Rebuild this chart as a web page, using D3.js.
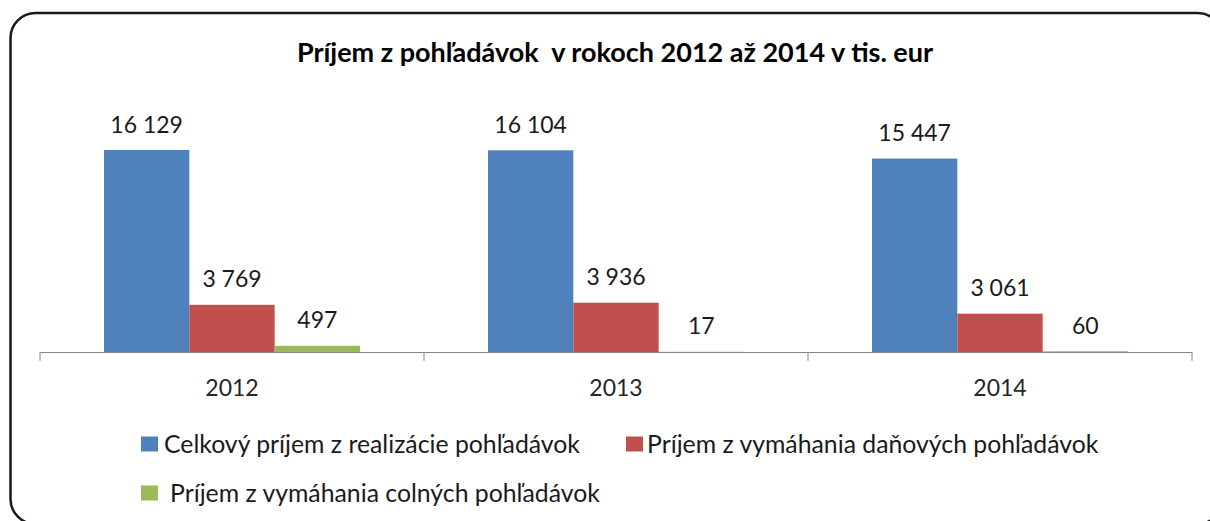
<!DOCTYPE html>
<html><head><meta charset="utf-8">
<script src="https://cdn.jsdelivr.net/npm/d3@7/dist/d3.min.js"></script>
<style>
html,body{margin:0;padding:0;background:#fff;}
svg{display:block;}
text{font-family:Lato,"Noto Sans",sans-serif;}
</style></head>
<body>
<svg id="chart" width="1210" height="521"></svg>
<script>
const title = "Príjem z pohľadávok  v rokoch 2012 až 2014 v tis. eur";
const categories = ["2012", "2013", "2014"];
const seriesNames = [
  "Celkový príjem z realizácie pohľadávok",
  "Príjem z vymáhania daňových pohľadávok",
  "Príjem z vymáhania colných pohľadávok"
];
const celkovy = [16129, 16104, 15447];
const danove = [3769, 3936, 3061];
const colne = [497, 17, 60];
const colors = ["#4F81BD", "#C0504D", "#9BBB59"];

const seriesValues = [celkovy, danove, colne];
const svg = d3.select("#chart");

// frame
svg.append("rect").attr("x", 10.5).attr("y", 13).attr("width", 1212).attr("height", 511)
  .attr("rx", 25).attr("ry", 25).attr("fill", "#fff").attr("stroke", "#1a1a1a").attr("stroke-width", 2.5);

// title
svg.append("text").attr("x", 615).attr("y", 62).attr("text-anchor", "middle")
  .style("white-space", "pre")
  .attr("font-size", 27).attr("font-weight", "bold").attr("fill", "#000").text(title);

const x0 = d3.scaleBand().domain(categories).range([40, 1192]).paddingInner(0).paddingOuter(0);
const x1 = d3.scaleBand().domain(d3.range(seriesNames.length)).range([0, x0.bandwidth()])
  .paddingInner(0).paddingOuter(0.75);
const y = d3.scaleLinear().domain([0, 18000]).range([352, 352 - 18000 * 202 / 16129]);

const fmt = v => d3.format(",")(v).replace(/,/g, "\u00a0");

const groups = svg.append("g").selectAll("g").data(categories).join("g")
  .attr("transform", d => `translate(${x0(d)},0)`);

groups.each(function(cat, ci) {
  const g = d3.select(this);
  seriesValues.forEach((vals, si) => {
    const v = vals[ci];
    g.append("rect").attr("x", x1(si)).attr("width", x1.bandwidth())
      .attr("y", y(v)).attr("height", y(0) - y(v)).attr("fill", colors[si]);
    g.append("text").attr("x", x1(si) + x1.bandwidth() / 2).attr("y", y(v) - 17.5)
      .attr("text-anchor", "middle").attr("font-size", 23).attr("fill", "#1a1a1a").text(fmt(v));
  });
});

// axis
const axis = d3.axisBottom(x0).tickSize(0).tickPadding(0);
const ag = svg.append("g").attr("transform", "translate(0,352)").call(axis);
ag.select(".domain").attr("stroke", "#868686").attr("stroke-width", 1);
ag.selectAll(".tick text").attr("font-size", 23).attr("fill", "#262626").attr("dy", 0).attr("y", 44)
  .style("font-family", "Lato");
// category boundary ticks
const bounds = categories.map(c => x0(c)).concat([x0.range()[1]]);
svg.append("g").selectAll("line").data(bounds).join("line")
  .attr("x1", d => d).attr("x2", d => d).attr("y1", 352).attr("y2", 361)
  .attr("stroke", "#868686").attr("stroke-width", 1);

// legend
const legendItems = [
  {i: 0, sx: 141, tx: 164, yy: 444},
  {i: 1, sx: 626, tx: 647, yy: 444},
  {i: 2, sx: 141, tx: 170, yy: 493}
];
const lg = svg.append("g");
legendItems.forEach(it => {
  lg.append("rect").attr("x", it.sx).attr("y", it.yy - 7.5).attr("width", 17).attr("height", 15)
    .attr("fill", colors[it.i]);
  lg.append("text").attr("x", it.tx).attr("y", it.yy + 8.5).attr("font-size", 24.8)
    .attr("fill", "#1a1a1a").text(seriesNames[it.i]);
});
</script>
</body></html>
